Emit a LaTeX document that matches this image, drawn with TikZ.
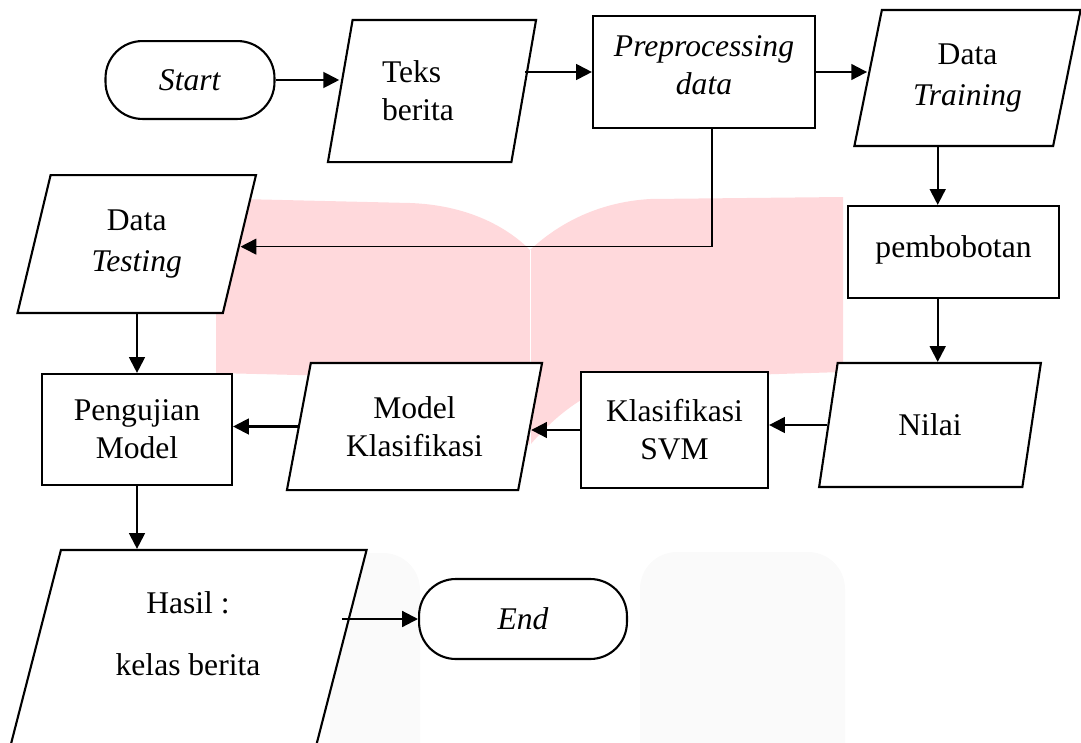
\documentclass[tikz,border=0pt]{standalone}
\usepackage{fontspec}
\setmainfont{Liberation Serif}
\usetikzlibrary{shapes.geometric}
\usetikzlibrary{arrows.meta}
\definecolor{wmpink}{RGB}{255,217,220}
\tikzset{
	term/.style={draw,thick,rectangle,rounded corners=14pt,fill=white},
	io/.style={draw,thick,trapezium,trapezium left angle=76,trapezium right angle=104,trapezium stretches=true,fill=white,align=center,inner sep=1pt},
	proc/.style={draw,thick,rectangle,fill=white,align=center},
	arr/.style={thick,-{Triangle[length=6pt,width=6pt]}},
}

\begin{document}
\begin{tikzpicture}[x=0.38pt,y=-0.38pt,font=\fontsize{12}{14.5}\selectfont]
	\useasboundingbox (0,0) rectangle (1081,742);
	\clip (0,0) rectangle (1081,742);
	% watermark behind the chart
	\fill[wmpink] (216,215) .. controls (216,204) and (224,199) .. (240,199) -- (410,203) .. controls (465,205) and (505,225) .. (530,250) .. controls (560,222) and (600,202) .. (650,199) -- (843,197) -- (843,372) -- (650,378) .. controls (600,380) and (560,410) .. (530,445) .. controls (500,410) and (460,380) .. (420,378) -- (216,373) -- cycle;
	\draw[white,very thin] (530,250) -- (530,445);
	\fill[black!2,rounded corners=14pt] (330,553) rectangle (420,780);
	\fill[black!2,rounded corners=14pt] (640,552) rectangle (845,780);

	\node[term,minimum width=64.2pt,minimum height=29.6pt] (start) at (190,80) {\textit{Start}};
	\node[io,minimum width=79.4pt,minimum height=54pt,text width=38pt,align=left] (teks) at (432,91) {Teks\\berita};
	\node[proc,minimum width=84.4pt,minimum height=42.6pt] (prep) at (704,72) {\textit{Preprocessing}\\\textit{data}\\[-9pt]\mbox{}};
	\node[io,minimum width=86.3pt,minimum height=51.7pt] (train) at (967.5,78) {Data\\[1pt]\textit{Training}};
	\node[proc,minimum width=80.2pt,minimum height=35pt] (bobot) at (953.5,252) {pembobotan\\[-10pt]\mbox{}};
	\node[io,minimum width=84.4pt,minimum height=47.1pt] (nilai) at (930,425) {Nilai};
	\node[proc,minimum width=71.1pt,minimum height=44.1pt] (svm) at (674.5,430) {Klasifikasi\\SVM};
	\node[io,minimum width=97.3pt,minimum height=48.3pt] (model) at (414.5,426.5) {Model\\Klasifikasi};
	\node[proc,minimum width=72.2pt,minimum height=42.2pt] (uji) at (137,429.5) {Pengujian\\Model};
	\node[io,minimum width=90.8pt,minimum height=52.4pt] (testing) at (136.75,244) {Data\\[1pt]\textit{Testing}};
	\node[io,minimum width=136.8pt,minimum height=76pt] (hasil) at (188,650) {Hasil :\\[9pt]kelas berita\\[-2pt]\mbox{}};
	\node[term,minimum width=79pt,minimum height=30.4pt] (end) at (523,619) {\textit{End}};

	\draw[arr] (start.east) -- (start.east -| teks.west);
	\draw[arr] (teks.east |- prep.west) -- (prep.west);
	\draw[arr] (prep.east) -- (prep.east -| train.west);
	\draw[arr] ([xshift=-6pt]bobot.north |- train.south) -- ([xshift=-6pt]bobot.north);
	\draw[arr] ([xshift=-6pt]bobot.south) -- ([xshift=-6pt]bobot.south |- nilai.north);
	\draw[arr] (nilai.west) -- (nilai.west -| svm.east);
	\draw[arr] (svm.west) -- (svm.west -| model.east);
	\draw[arr] (model.west) -- (model.west -| uji.east);
	\draw[semithick,-{Triangle[length=6pt,width=6pt]}] ([xshift=3pt]prep.south) |- ([yshift=-1pt]testing.east);
	\draw[arr] (uji.north |- testing.south) -- (uji.north);
	\draw[arr] (uji.south) -- (uji.south |- hasil.north);
	\draw[arr] (hasil.east |- end.west) -- (end.west);
\end{tikzpicture}
\end{document}
